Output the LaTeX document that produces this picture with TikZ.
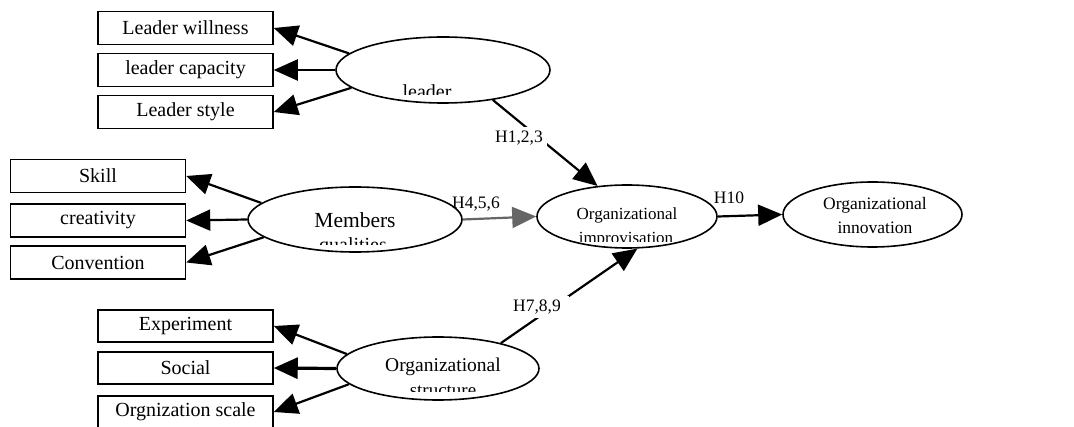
\documentclass[tikz,border=0pt]{standalone}
\usepackage{fontspec}
\setmainfont{Liberation Serif}
\usetikzlibrary{arrows.meta,shapes.geometric}
\begin{document}
\begin{tikzpicture}[x=1pt,y=-1pt,
  box/.style={draw,line width=1.5pt,minimum width=175pt,minimum height=33pt,inner sep=0pt,font=\fontsize{20}{21}\selectfont},
  ell/.style={draw,ellipse,line width=1.6pt,inner sep=0pt},
  arr/.style={line width=2.2pt,-{Triangle[length=24pt,width=21pt]}},
  lbl/.style={font=\fontsize{17.5}{18}\selectfont,inner sep=3pt},
  etxt/.style={inner sep=0pt}
]
\useasboundingbox (0,0) rectangle (1074,427);

% boxes
\node[box] (lw) at (185.5,28) {Leader willness};
\node[box] (lc) at (185.5,70) {leader capacity};
\node[box] (ls) at (185.5,112) {Leader style};
\node[box] (sk) at (98,176) {Skill};
\node[box] (cr) at (98,220.5) {creativity};
\node[box] (cv) at (98,262.5) {Convention};
\node[box,minimum height=32pt] (ex) at (185.5,326) {Experiment};
\node[box,minimum height=32pt] (so) at (185.5,368) {Social};
\node[box,minimum height=32pt] (os) at (185.5,412) {Orgnization scale};

% ellipses
\node[ell,minimum width=214pt,minimum height=66pt] (leader) at (443,70) {};
\node[ell,minimum width=214pt,minimum height=65pt] (members) at (355,219.5) {};
\node[ell,minimum width=202pt,minimum height=63pt] (struct) at (438,368.5) {};
\node[ell,minimum width=180pt,minimum height=63pt] (improv) at (627,216.5) {};
\node[ell,minimum width=179pt,minimum height=65pt] (innov) at (872.5,214.5) {};

% ellipse texts
\begin{scope}
\clip (380,78) rectangle (480,95);
\node[etxt,anchor=base,font=\fontsize{20}{22}\selectfont] (tleader) at (427,98.5) {leader};
\end{scope}
\node[etxt,font=\fontsize{21.5}{22}\selectfont] (tmem) at (355,220) {Members};
\begin{scope}
\clip (300,232) rectangle (410,245);
\node[etxt,anchor=base,font=\fontsize{20}{22}\selectfont] (tqual) at (353,252) {qualities};
\end{scope}
\node[etxt,font=\fontsize{19.5}{21}\selectfont] (tstr1) at (443,367) {Organizational};
\begin{scope}
\clip (390,380) rectangle (500,392);
\node[etxt,anchor=base,font=\fontsize{19}{21}\selectfont] (tstr2) at (443,397) {structure};
\end{scope}
\node[etxt,font=\fontsize{17}{18}\selectfont] (timp1) at (627,215) {Organizational};
\begin{scope}
\clip (570,226) rectangle (690,242);
\node[etxt,anchor=base,font=\fontsize{17}{18}\selectfont] (timp2) at (626,244) {improvisation};
\end{scope}
\node[etxt,font=\fontsize{17.5}{18}\selectfont] (tinn1) at (875,205) {Organizational};
\node[etxt,font=\fontsize{17.5}{18}\selectfont] (tinn2) at (875,228) {innovation};

% indicator arrows
\draw[arr] (leader.170) -- (lw.east);
\draw[arr] (leader.west) -- (lc.east);
\draw[arr] (leader.191) -- (ls.east);
\draw[arr] (members.170) -- (sk.east);
\draw[arr] (members.west) -- (cr.east);
\draw[arr] (members.191) -- (cv.east);
\draw[arr] (struct.171) -- (ex.east);
\draw[arr,line width=3.2pt] (struct.west) -- (so.east);
\draw[arr] (struct.190) -- (os.east);

% structural paths
\draw[arr] (leader.-31) -- (improv.134);
\draw[arr,draw=black!60] (members.east) -- (improv.west);
\draw[arr] (struct.22) -- (improv.-72.5);
\draw[arr] (improv.east) -- (innov.west);

% path labels
\node[lbl,fill=white,inner sep=4pt] (h1) at (519,138) {H1,2,3};
\node[lbl] (h4) at (476,204) {H4,5,6};
\node[lbl,fill=white,inner xsep=8pt,inner ysep=4pt] (h7) at (537,307) {H7,8,9};
\node[lbl] (h10) at (729,198) {H10};
\end{tikzpicture}
\end{document}
